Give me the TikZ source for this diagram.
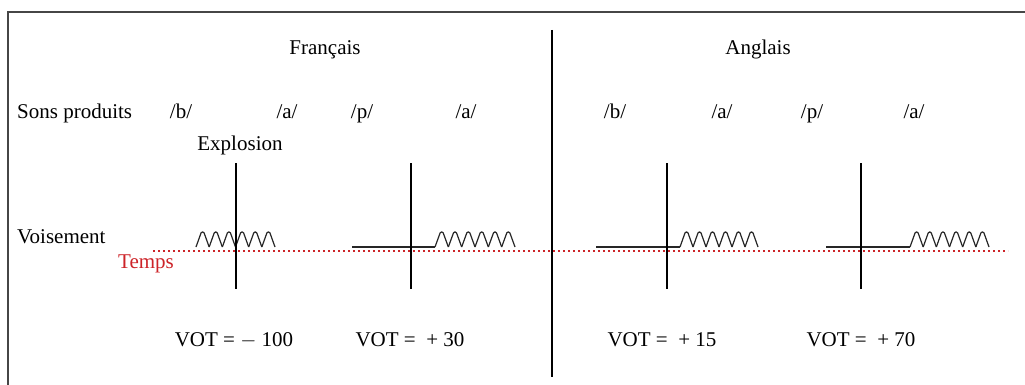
\documentclass[tikz,border=0pt]{standalone}
\usepackage{fontspec}
\setmainfont{Liberation Serif}
\definecolor{framegray}{RGB}{70,70,70}
\definecolor{tempsred}{RGB}{205,35,40}
\begin{document}
\begin{tikzpicture}[x=1pt,y=-1pt,
  lbl/.style={font=\fontsize{21}{24}\selectfont, inner sep=0pt, anchor=base},
  lbll/.style={lbl, anchor=base west},
  axis/.style={line width=1.3pt, black},
  wave/.style={line width=1.2pt, black!85, line join=round},
  flat/.style={line width=1.2pt, black!85},
  timeline/.style={line width=2pt, tempsred, dash pattern=on 1.6pt off 3.4pt}]
\useasboundingbox (0,0) rectangle (1025,385);
\fill[white] (0,0) rectangle (1025,385);
% frame
\draw[line width=2pt, framegray] (8,385) -- (8,12) -- (1025,12);
% headings
\node[lbl] (fr) at (325,55) {Français};
\node[lbl] (an) at (758,55) {Anglais};
\draw[axis] (552,30) -- (552,377);
% row labels
\node[lbll] (sons) at (17,119) {Sons produits};
\node[lbll] (vois) at (17,243) {Voisement};
\node[lbll, text=tempsred] (temps) at (118,268) {Temps};
% sounds
\node[lbl] (b1) at (181,119) {/b/};
\node[lbl] (a1) at (287,119) {/a/};
\node[lbl] (p1) at (362,119) {/p/};
\node[lbl] (a2) at (466,119) {/a/};
\node[lbl] (b2) at (615,119) {/b/};
\node[lbl] (a3) at (722,119) {/a/};
\node[lbl] (p2) at (812,119) {/p/};
\node[lbl] (a4) at (914,119) {/a/};
\node[lbl] (expl) at (240,150) {Explosion};
% time line
\draw[timeline] (153,251) -- (1008,251);
% voicing
\foreach \s/\e in {196/275, 435/515, 680/758, 910/989}{
  \pgfmathsetmacro{\per}{(\e-\s)/6}
  \foreach \k in {0,...,5}{
    \pgfmathsetmacro{\xa}{\s+\k*\per}
    \draw[wave] (\xa,247) -- ({\xa+0.3*\per},236)
      .. controls ({\xa+0.38*\per},230.5) and ({\xa+0.62*\per},230.5) .. ({\xa+0.7*\per},236)
      -- ({\xa+\per},247);
  }
}
\draw[flat] (352,247) -- (435,247);
\draw[flat] (596,247) -- (680,247);
\draw[flat] (826,247) -- (910,247);
% explosion lines
\foreach \xx in {236,411,667,861}{
  \draw[axis] (\xx,163) -- (\xx,289);
}
% VOT
\node[lbl] (v1) at (234,346) {VOT = $-$ 100};
\node[lbl] (v2) at (410,346) {VOT = \ + 30};
\node[lbl] (v3) at (662,346) {VOT = \ + 15};
\node[lbl] (v4) at (861,346) {VOT = \ + 70};
\end{tikzpicture}
\end{document}
